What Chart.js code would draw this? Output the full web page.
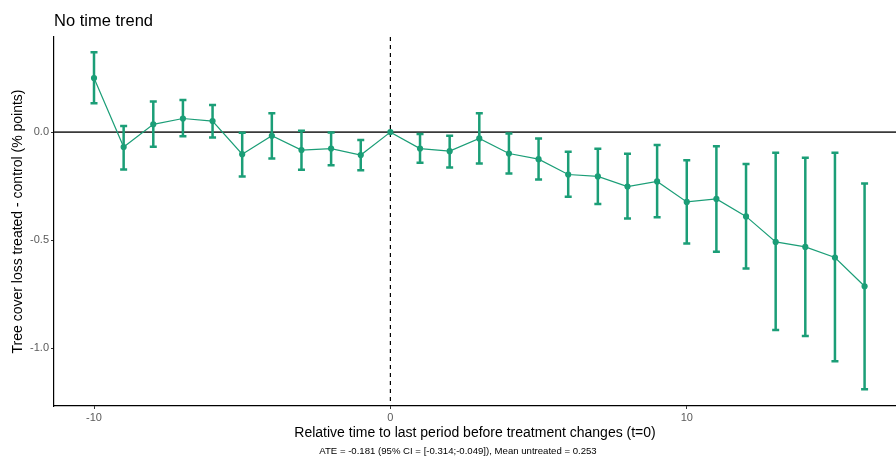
<!DOCTYPE html>
<html>
<head>
<meta charset="utf-8">
<script src="https://cdn.jsdelivr.net/npm/chart.js@4.4.0/dist/chart.umd.min.js"></script>
<style>
html, body { margin: 0; padding: 0; background: #fff; }
#wrap { width: 896px; height: 459px; }
</style>
</head>
<body>
<div id="wrap"><canvas id="chart" width="896" height="459"></canvas></div>
<script>
// event-study estimates
const periods   = [-10, -9, -8, -7, -6, -5, -4, -3, -2, -1, 0, 1, 2, 3, 4, 5, 6, 7, 8, 9, 10, 11, 12, 13, 14, 15, 16];
const estimates = [0.250, -0.069, 0.036, 0.063, 0.051, -0.102, -0.017, -0.083, -0.076, -0.106, 0.000, -0.076, -0.088, -0.029, -0.099, -0.125, -0.196, -0.205, -0.252, -0.228, -0.323, -0.309, -0.390, -0.508, -0.531, -0.580, -0.713];
const lowerCI   = [0.134, -0.173, -0.068, -0.019, -0.025, -0.205, -0.122, -0.174, -0.153, -0.176, null, -0.142, -0.164, -0.145, -0.191, -0.219, -0.299, -0.332, -0.400, -0.394, -0.515, -0.554, -0.631, -0.915, -0.943, -1.060, -1.190];
const upperCI   = [0.369, 0.028, 0.142, 0.148, 0.126, -0.003, 0.087, 0.006, -0.002, -0.037, null, -0.009, -0.017, 0.087, -0.006, -0.029, -0.091, -0.077, -0.100, -0.060, -0.130, -0.065, -0.148, -0.096, -0.119, -0.096, -0.238];
const xTicks = [-10, 0, 10];
const yTicks = [-1.0, -0.5, 0.0];

const titleText = 'No time trend';
const xTitle = 'Relative time to last period before treatment changes (t=0)';
const yTitle = 'Tree cover loss treated - control (% points)';
const captionText = 'ATE = -0.181 (95% CI = [-0.314;-0.049]), Mean untreated = 0.253';

const green = '#1b9e77';
const tickGray = '#5a5a5a';

Chart.defaults.font.family = '"Liberation Sans", Arial, sans-serif';

const refLines = {
	id: 'refLines',
	beforeDatasetsDraw(chart) {
		const { ctx, chartArea: { top, bottom, left, right }, scales: { x, y } } = chart;
		ctx.save();
		// zero line
		const y0 = y.getPixelForValue(0);
		ctx.strokeStyle = '#3a3a3a';
		ctx.lineWidth = 1.6;
		ctx.beginPath();
		ctx.moveTo(left, y0);
		ctx.lineTo(right, y0);
		ctx.stroke();
		// treatment line
		const x0 = x.getPixelForValue(0);
		ctx.strokeStyle = '#000000';
		ctx.lineWidth = 1.2;
		ctx.setLineDash([4, 4]);
		ctx.beginPath();
		ctx.moveTo(x0, top);
		ctx.lineTo(x0, bottom);
		ctx.stroke();
		ctx.restore();
	}
};

const errorBars = {
	id: 'errorBars',
	afterDatasetsDraw(chart) {
		const { ctx, scales: { x, y } } = chart;
		ctx.save();
		ctx.strokeStyle = green;
		ctx.lineWidth = 2.5;
		periods.forEach((p, i) => {
			if (lowerCI[i] == null) return;
			const px = x.getPixelForValue(p);
			const yt = y.getPixelForValue(upperCI[i]);
			const yb = y.getPixelForValue(lowerCI[i]);
			ctx.beginPath();
			ctx.moveTo(px, yt); ctx.lineTo(px, yb);
			ctx.moveTo(px - 3.5, yt); ctx.lineTo(px + 3.5, yt);
			ctx.moveTo(px - 3.5, yb); ctx.lineTo(px + 3.5, yb);
			ctx.stroke();
		});
		ctx.restore();
	}
};

const texts = {
	id: 'texts',
	afterDraw(chart) {
		const { ctx, chartArea: { left } } = chart;
		ctx.save();
		ctx.fillStyle = '#000';
		ctx.textBaseline = 'alphabetic';
		ctx.textAlign = 'left';
		ctx.font = '16.5px "Liberation Sans", Arial, sans-serif';
		ctx.fillText(titleText, left, 26);
		ctx.textAlign = 'center';
		ctx.font = '9.6px "Liberation Sans", Arial, sans-serif';
		ctx.fillText(captionText, 458, 454);
		ctx.restore();
	}
};

new Chart(document.getElementById('chart'), {
	type: 'line',
	data: {
		datasets: [{
			data: periods.map((p, i) => ({ x: p, y: estimates[i] })),
			borderColor: green,
			backgroundColor: green,
			borderWidth: 1.2,
			pointRadius: 2.5,
			pointHoverRadius: 2.5,
			tension: 0
		}]
	},
	options: {
		responsive: false,
		animation: false,
		devicePixelRatio: 1,
		layout: {
			autoPadding: false,
			padding: { top: 37, right: 0, left: 0, bottom: 17 }
		},
		plugins: {
			legend: { display: false },
			tooltip: { enabled: false }
		},
		scales: {
			x: {
				type: 'linear',
				min: -11.35,
				max: 17.06,
				afterBuildTicks: s => { s.ticks = xTicks.map(v => ({ value: v })); },
				afterFit: s => { s.height = 36; },
				grid: { drawOnChartArea: false, tickLength: 3, color: '#333333' },
				border: { color: '#000000', width: 1.2 },
				ticks: { color: tickGray, font: { size: 11 }, padding: 2, maxRotation: 0, callback: v => String(v) },
				title: { display: true, text: xTitle, color: '#000', font: { size: 14 }, padding: { top: 2, bottom: 0 } }
			},
			y: {
				min: -1.267,
				max: 0.44,
				afterBuildTicks: s => { s.ticks = yTicks.map(v => ({ value: v })); },
				afterFit: s => { s.width = 54; },
				grid: { drawOnChartArea: false, tickLength: 3, color: '#333333' },
				border: { color: '#000000', width: 1.2 },
				ticks: { color: tickGray, font: { size: 11 }, padding: 2, callback: v => v.toFixed(1) },
				title: { display: true, text: yTitle, color: '#000', font: { size: 14 }, padding: { top: 10, bottom: 2 } }
			}
		}
	},
	plugins: [refLines, errorBars, texts]
});
</script>
</body>
</html>
